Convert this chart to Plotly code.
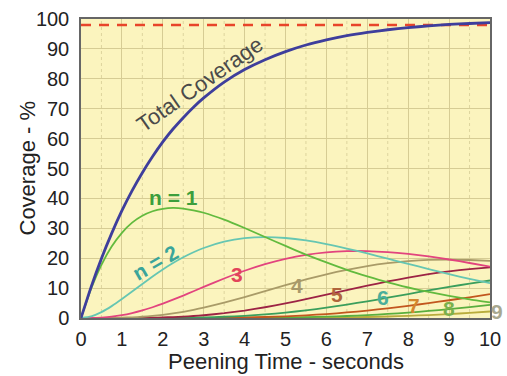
import plotly.graph_objects as go

t = [0, 0.25, 0.5, 0.75, 1, 1.25, 1.5, 1.75, 2, 2.25, 2.5, 2.75, 3, 3.5, 4, 4.5, 5, 5.5, 6, 6.5, 7, 7.5, 8, 8.5, 9, 9.5, 10]

total = [0, 10.5, 19.9, 28.3, 35.9, 42.6, 48.6, 54.0, 58.9, 63.2, 67.0, 70.5, 73.6, 78.9, 83.1, 86.4, 89.1, 91.3, 93.0, 94.4, 95.5, 96.4, 97.1, 97.7, 98.2, 98.5, 98.8]
n1 = [0, 9.9, 17.8, 23.9, 28.5, 31.9, 34.2, 35.7, 36.5, 36.8, 36.6, 36.0, 35.2, 32.9, 30.1, 27.1, 24.1, 21.2, 18.6, 16.1, 13.9, 11.9, 10.2, 8.7, 7.4, 6.2, 5.2]
n2 = [0, 0.55, 1.97, 3.97, 6.32, 8.84, 11.39, 13.88, 16.22, 18.37, 20.30, 21.98, 23.41, 25.52, 26.70, 27.06, 26.76, 25.95, 24.73, 23.23, 21.59, 19.85, 18.10, 16.38, 14.69, 13.08, 11.63]
n3 = [0, 0.02, 0.15, 0.44, 0.94, 1.64, 2.53, 3.60, 4.80, 6.12, 7.51, 8.95, 10.39, 13.22, 15.81, 18.02, 19.80, 21.12, 21.96, 22.35, 22.37, 22.03, 21.43, 20.61, 19.57, 18.39, 17.21]
n4 = [0, 0.0, 0.01, 0.04, 0.10, 0.23, 0.42, 0.70, 1.07, 1.53, 2.08, 2.73, 3.46, 5.14, 7.02, 9.00, 10.99, 12.89, 14.63, 16.13, 17.38, 18.34, 19.03, 19.45, 19.55, 19.39, 19.10]
n5 = [0, 0.0, 0.0, 0.0, 0.01, 0.03, 0.06, 0.11, 0.19, 0.31, 0.46, 0.67, 0.92, 1.60, 2.49, 3.60, 4.88, 6.30, 7.79, 9.31, 10.80, 12.21, 13.52, 14.68, 15.62, 16.36, 16.96]
n6 = [0, 0.0, 0.0, 0.0, 0.0, 0.0, 0.01, 0.01, 0.03, 0.05, 0.09, 0.14, 0.21, 0.41, 0.74, 1.20, 1.81, 2.56, 3.46, 4.48, 5.59, 6.78, 8.00, 9.23, 10.40, 11.50, 12.55]
n7 = [0, 0.0, 0.0, 0.0, 0.0, 0.0, 0.0, 0.0, 0.0, 0.01, 0.01, 0.02, 0.04, 0.09, 0.19, 0.34, 0.57, 0.89, 1.32, 1.85, 2.48, 3.23, 4.06, 4.98, 5.94, 6.93, 7.96]
n8 = [0, 0.0, 0.0, 0.0, 0.0, 0.0, 0.0, 0.0, 0.0, 0.0, 0.0, 0.0, 0.01, 0.02, 0.04, 0.09, 0.16, 0.27, 0.44, 0.67, 0.96, 1.35, 1.80, 2.35, 2.97, 3.65, 4.42]
n9 = [0, 0.0, 0.0, 0.0, 0.0, 0.0, 0.0, 0.0, 0.0, 0.0, 0.0, 0.0, 0.0, 0.0, 0.01, 0.02, 0.04, 0.07, 0.13, 0.21, 0.33, 0.50, 0.71, 0.99, 1.32, 1.71, 2.18]

target = 98
x_ticks = list(range(0, 11))
y_ticks = list(range(0, 101, 10))
x_title = "Peening Time - seconds"
y_title = "Coverage - %"

series = [
    (n9, "#B8AC3C"),
    (n8, "#5AAE3E"),
    (n7, "#C2561E"),
    (n6, "#3A9E5C"),
    (n5, "#9C2344"),
    (n4, "#A99B68"),
    (n3, "#E2447E"),
    (n2, "#66C6B2"),
    (n1, "#62BA3E"),
    (total, "#3E3E9C"),
]

FONT = "Liberation Sans, Arial, sans-serif"
fig = go.Figure()

# minor vertical gridlines (dotted)
for xv in [v + 0.5 for v in range(0, 10)]:
    fig.add_shape(type="line", x0=xv, x1=xv, y0=0, y1=100, xref="x", yref="y",
                  line=dict(color="#DDD49E", width=1, dash="dot"), layer="below")

fig.add_trace(go.Scatter(x=[0, 10], y=[target, target], mode="lines",
                         line=dict(color="#E8452A", width=2.4, dash="10px,8px"),
                         hoverinfo="skip"))

for ys, col in series:
    w = 2.8 if ys is total else 1.8
    fig.add_trace(go.Scatter(x=t, y=ys, mode="lines",
                             line=dict(color=col, width=w, shape="spline", smoothing=0.5),
                             hoverinfo="skip"))

labels = [
    ("Total Coverage", 2.9, 78, "#4A4A4A", -35, 22, False),
    ("n = 1", 2.25, 40.3, "#3C9E3C", 0, 21, True),
    ("n = 2", 1.82, 18.6, "#3AA59A", -30, 21, True),
    ("3", 3.81, 14.4, "#E2445A", 0, 21, True),
    ("4", 5.28, 11, "#A8996A", 0, 21, True),
    ("5", 6.26, 7.7, "#B0643C", 0, 21, True),
    ("6", 7.38, 6.7, "#4AAE9A", 0, 21, True),
    ("7", 8.14, 4.3, "#D4862E", 0, 21, True),
    ("8", 9.0, 3.3, "#7AB04C", 0, 21, True),
]
for txt, xv, yv, col, ang, sz, bold in labels:
    fig.add_annotation(x=xv, y=yv, text=f"<b>{txt}</b>" if bold else txt, showarrow=False,
                       textangle=ang, font=dict(family=FONT, size=sz, color=col),
                       xref="x", yref="y")
# "9" sits just outside the right edge of the plot
fig.add_annotation(x=1.017, y=0.022, xref="paper", yref="paper", text="<b>9</b>", showarrow=False,
                   xanchor="center", yanchor="middle",
                   font=dict(family=FONT, size=21, color="#A8A890"))

# axis titles
fig.add_annotation(x=0.5, y=-0.147, xref="paper", yref="paper", text=x_title, showarrow=False,
                   font=dict(family=FONT, size=22, color="#222222"), yanchor="middle")
fig.add_annotation(x=-0.132, y=0.5, xref="paper", yref="paper", text=y_title, showarrow=False,
                   textangle=-90, font=dict(family=FONT, size=22, color="#222222"), xanchor="center")

fig.update_layout(
    width=507, height=376,
    margin=dict(l=81, r=17, t=19, b=58),
    paper_bgcolor="white",
    plot_bgcolor="#FBF4BE",
    showlegend=False,
    font=dict(family=FONT, color="#222222"),
)
fig.update_xaxes(range=[0, 10], tickvals=x_ticks, ticktext=[str(v) for v in x_ticks],
                 showgrid=True, gridcolor="#D6CC94", gridwidth=1.2,
                 showline=True, linecolor="#666666", linewidth=1.5, mirror=True,
                 zeroline=False, ticks="", tickfont=dict(size=20), automargin=False,
                 ticklabelstandoff=2)
fig.update_yaxes(range=[0, 100], tickvals=y_ticks, ticktext=[str(v) for v in y_ticks],
                 showgrid=True, gridcolor="#D6CC94", gridwidth=1.2,
                 showline=True, linecolor="#666666", linewidth=1.5, mirror=True,
                 zeroline=False, ticks="", tickfont=dict(size=20), automargin=False,
                 ticklabelstandoff=6)

fig.write_html("out.html", config={"displayModeBar": False},
               post_script="document.body.style.margin='0';")
